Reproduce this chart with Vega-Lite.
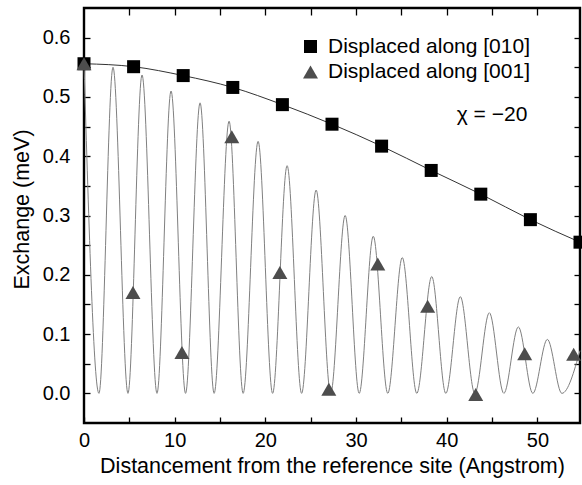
{
  "$schema": "https://vega.github.io/schema/vega-lite/v6.json",
  "width": 496,
  "height": 415,
  "autosize": "none",
  "padding": {"left": 84, "top": 8, "right": 2, "bottom": 62},
  "background": "white",
  "config": {
    "font": "Liberation Sans",
    "view": {"stroke": "black", "strokeWidth": 2.4},
    "axis": {
      "grid": false,
      "domain": false,
      "tickColor": "black",
      "tickWidth": 1.3,
      "labelColor": "black",
      "titleColor": "black",
      "labelFontSize": 20,
      "titleFontSize": 21.5,
      "titleFontWeight": "normal",
      "labelFont": "Liberation Sans",
      "titleFont": "Liberation Sans"
    }
  },
  "datasets": {
    "osc": [
      {"x": 0, "y": 0.556}, {"x": 1.65, "y": 0}, {"x": 3.2, "y": 0.55}, {"x": 4.85, "y": 0},
      {"x": 6.4, "y": 0.537}, {"x": 8.05, "y": 0}, {"x": 9.6, "y": 0.51}, {"x": 11.2, "y": 0},
      {"x": 12.8, "y": 0.49}, {"x": 14.35, "y": 0}, {"x": 16.0, "y": 0.459}, {"x": 17.55, "y": 0},
      {"x": 19.2, "y": 0.425}, {"x": 20.8, "y": 0}, {"x": 22.4, "y": 0.384}, {"x": 24.0, "y": 0},
      {"x": 25.6, "y": 0.343}, {"x": 27.2, "y": 0}, {"x": 28.8, "y": 0.3}, {"x": 30.35, "y": 0},
      {"x": 31.9, "y": 0.265}, {"x": 33.5, "y": 0}, {"x": 35.1, "y": 0.229}, {"x": 36.7, "y": 0},
      {"x": 38.35, "y": 0.197}, {"x": 39.9, "y": 0}, {"x": 41.5, "y": 0.163}, {"x": 43.1, "y": 0},
      {"x": 44.7, "y": 0.136}, {"x": 46.3, "y": 0}, {"x": 47.9, "y": 0.112}, {"x": 49.5, "y": 0},
      {"x": 51.1, "y": 0.091}, {"x": 52.7, "y": 0}, {"x": 54.7, "y": 0.072}
    ],
    "pts": [
      {"series": "Displaced along [010]", "x": 0, "y": 0.556},
      {"series": "Displaced along [010]", "x": 5.47, "y": 0.551},
      {"series": "Displaced along [010]", "x": 10.94, "y": 0.536},
      {"series": "Displaced along [010]", "x": 16.41, "y": 0.516},
      {"series": "Displaced along [010]", "x": 21.88, "y": 0.487},
      {"series": "Displaced along [010]", "x": 27.35, "y": 0.454},
      {"series": "Displaced along [010]", "x": 32.82, "y": 0.417},
      {"series": "Displaced along [010]", "x": 38.29, "y": 0.376},
      {"series": "Displaced along [010]", "x": 43.76, "y": 0.336},
      {"series": "Displaced along [010]", "x": 49.23, "y": 0.293},
      {"series": "Displaced along [010]", "x": 54.7, "y": 0.255},
      {"series": "Displaced along [001]", "x": 0, "y": 0.556},
      {"series": "Displaced along [001]", "x": 5.4, "y": 0.17},
      {"series": "Displaced along [001]", "x": 10.8, "y": 0.069},
      {"series": "Displaced along [001]", "x": 16.3, "y": 0.433},
      {"series": "Displaced along [001]", "x": 21.6, "y": 0.204},
      {"series": "Displaced along [001]", "x": 27.0, "y": 0.007},
      {"series": "Displaced along [001]", "x": 32.4, "y": 0.218},
      {"series": "Displaced along [001]", "x": 37.9, "y": 0.147},
      {"series": "Displaced along [001]", "x": 43.2, "y": -0.002},
      {"series": "Displaced along [001]", "x": 48.6, "y": 0.067},
      {"series": "Displaced along [001]", "x": 54.0, "y": 0.066}
    ],
    "notes": [
      {"label": "χ = −20", "x": 45.0, "y": 0.459}
    ]
  },
  "layer": [
    {
      "data": {"name": "osc"},
      "mark": {"type": "line", "interpolate": "monotone", "color": "#808080", "strokeWidth": 1},
      "encoding": {
        "x": {
          "field": "x", "type": "quantitative",
          "scale": {"domain": [0, 54.7], "nice": false, "zero": false},
          "axis": {
            "orient": "bottom",
            "values": [0, 5, 10, 15, 20, 25, 30, 35, 40, 45, 50],
            "labelExpr": "datum.value % 10 === 0 ? datum.label : ''",
            "tickSize": -6,
            "labelPadding": 29,
            "labelBaseline": "alphabetic",
            "labelFlush": false,
            "title": "Distancement from the reference site (Angstrom)",
            "titleY": 49,
            "titleBaseline": "alphabetic"
          }
        },
        "y": {
          "field": "y", "type": "quantitative",
          "scale": {"domain": [-0.05, 0.65], "nice": false, "zero": false},
          "axis": {
            "orient": "left",
            "values": [0, 0.05, 0.1, 0.15, 0.2, 0.25, 0.3, 0.35, 0.4, 0.45, 0.5, 0.55, 0.6],
            "labelExpr": "abs(datum.value * 10 - round(datum.value * 10)) < 0.001 ? format(datum.value, '.1f') : ''",
            "tickSize": -6,
            "labelPadding": 20,
            "labelFlush": false,
            "title": "Exchange (meV)",
            "titleX": -56,
            "titleY": 201,
            "titleAngle": -90,
            "titleAlign": "center",
            "titleBaseline": "alphabetic"
          }
        }
      }
    },
    {
      "data": {"name": "pts"},
      "transform": [{"filter": "datum.series === 'Displaced along [010]'"}],
      "mark": {"type": "line", "interpolate": "monotone", "color": "#333333", "strokeWidth": 1},
      "encoding": {
        "x": {
          "field": "x", "type": "quantitative",
          "axis": {"orient": "top", "values": [5, 10, 15, 20, 25, 30, 35, 40, 45, 50], "labels": false, "title": null, "tickSize": -7}
        },
        "y": {
          "field": "y", "type": "quantitative",
          "axis": {"orient": "right", "values": [0, 0.05, 0.1, 0.15, 0.2, 0.25, 0.3, 0.35, 0.4, 0.45, 0.5, 0.55, 0.6], "labels": false, "title": null, "tickSize": -6}
        }
      }
    },
    {
      "data": {"name": "pts"},
      "mark": {"type": "point", "filled": true, "opacity": 1, "strokeWidth": 0},
      "encoding": {
        "x": {"field": "x", "type": "quantitative", "axis": null},
        "y": {"field": "y", "type": "quantitative", "axis": null},
        "shape": {
          "field": "series", "type": "nominal",
          "scale": {"domain": ["Displaced along [010]", "Displaced along [001]"], "range": ["square", "triangle-up"]},
          "legend": {"title": null, "orient": "none", "legendX": 216, "legendY": 28, "labelFontSize": 21, "labelFont": "Liberation Sans", "labelColor": "black", "labelLimit": 0, "symbolSize": 110, "labelOffset": 7, "rowPadding": 3.5, "padding": 0, "symbolStrokeWidth": 0}
        },
        "color": {
          "field": "series", "type": "nominal",
          "scale": {"domain": ["Displaced along [010]", "Displaced along [001]"], "range": ["#000000", "#4d4d4d"]},
          "legend": {"title": null, "orient": "none", "legendX": 216, "legendY": 28, "labelFontSize": 21, "labelFont": "Liberation Sans", "labelColor": "black", "labelLimit": 0, "symbolSize": 110, "labelOffset": 7, "rowPadding": 3.5, "padding": 0, "symbolStrokeWidth": 0}
        },
        "size": {
          "field": "series", "type": "nominal",
          "scale": {"domain": ["Displaced along [010]", "Displaced along [001]"], "range": [169, 225]},
          "legend": null
        }
      }
    },
    {
      "data": {"name": "notes"},
      "mark": {"type": "text", "fontSize": 21, "align": "center", "baseline": "alphabetic", "font": "Liberation Sans", "color": "black"},
      "encoding": {
        "x": {"field": "x", "type": "quantitative", "axis": null},
        "y": {"field": "y", "type": "quantitative", "axis": null},
        "text": {"field": "label"}
      }
    }
  ],
  "resolve": {"axis": {"x": "independent", "y": "independent"}}
}
